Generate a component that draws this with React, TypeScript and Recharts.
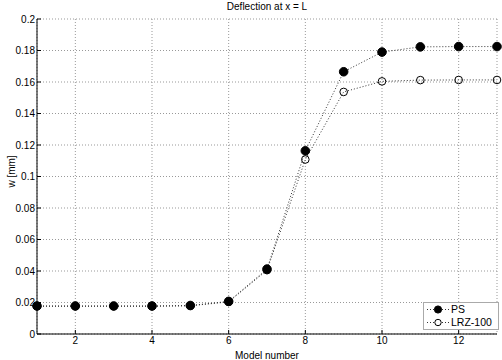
import { LineChart, Line, XAxis, YAxis, CartesianGrid } from 'recharts';

const models = [1, 2, 3, 4, 5, 6, 7, 8, 9, 10, 11, 12, 13];
const psValues = [0.0178, 0.0178, 0.0178, 0.0178, 0.0181, 0.0207, 0.0412, 0.1163, 0.1665, 0.179, 0.1823, 0.1825, 0.1825];
const lrzValues = [0.0176, 0.0176, 0.0176, 0.0176, 0.0179, 0.0204, 0.0405, 0.1108, 0.1537, 0.1604, 0.1612, 0.1613, 0.1613];
const xTicks = [2, 4, 6, 8, 10, 12];
const yTicks = [0, 0.02, 0.04, 0.06, 0.08, 0.1, 0.12, 0.14, 0.16, 0.18, 0.2];

const data = models.map((m, i) => ({ model: m, ps: psValues[i], lrz: lrzValues[i] }));

const FONT = 'Arial, "Liberation Sans", sans-serif';
const tickStyle = { fontSize: 10, fill: '#000', fontFamily: FONT };

// MATLAB-style legend box, overlaid at the lower right of the axes
function LegendBox() {
  const row = (filled: boolean, label: string) => (
    <div style={{ display: 'flex', alignItems: 'center', height: 13, whiteSpace: 'nowrap' }}>
      <svg width={23} height={13}>
        <line x1={1} y1={6.5} x2={23} y2={6.5} stroke="#333" strokeDasharray="1 2" />
        <circle cx={12} cy={6.5} r={filled ? 3.6 : 3.2} fill={filled ? '#000' : '#fff'} stroke="#000" />
      </svg>
      <span style={{ marginLeft: 2 }}>{label}</span>
    </div>
  );
  return (
    <div
      style={{
        position: 'absolute',
        left: 423,
        top: 302,
        border: '1px solid #aaa',
        background: '#fff',
        width: 76,
        height: 28,
        padding: '0 0 0 2px',
        boxSizing: 'border-box',
        fontSize: 10.5,
        fontFamily: FONT,
        lineHeight: '13px',
        overflow: 'hidden',
      }}
    >
      {row(true, 'PS')}
      {row(false, 'LRZ-100')}
    </div>
  );
}

export default function App() {
  return (
    <div style={{ position: 'absolute', left: 0, top: 0, width: 502, height: 360, background: '#fff' }}>
      <div
        style={{
          position: 'absolute',
          top: 1,
          left: 37,
          width: 460,
          textAlign: 'center',
          fontSize: 10,
          fontFamily: FONT,
          lineHeight: '12px',
        }}
      >
        Deflection at x = L
      </div>
      <LineChart width={502} height={360} data={data} margin={{ top: 19, right: 5, bottom: 0, left: 0 }}>
        <CartesianGrid xAxisId="bottom" yAxisId="left" stroke="#999" strokeDasharray="1 2" />
        <XAxis
          xAxisId="bottom"
          dataKey="model"
          type="number"
          domain={[1, 13]}
          ticks={xTicks}
          height={26}
          tickSize={-4}
          tickMargin={7}
          tick={tickStyle}
          stroke="#000"
          label={{ value: 'Model number', position: 'insideBottom', offset: 1, style: tickStyle }}
        />
        <XAxis
          xAxisId="top"
          orientation="top"
          dataKey="model"
          type="number"
          domain={[1, 13]}
          ticks={xTicks}
          height={0}
          tickSize={-4}
          tick={false}
          stroke="#000"
        />
        <YAxis
          yAxisId="left"
          type="number"
          domain={[0, 0.2]}
          ticks={yTicks}
          width={37}
          tickSize={-4}
          tickMargin={6}
          tick={tickStyle}
          stroke="#000"
          label={{ value: 'w [mm]', angle: -90, position: 'insideLeft', offset: 11, dy: -5, style: { ...tickStyle, textAnchor: 'middle' } }}
        />
        <YAxis
          yAxisId="right"
          orientation="right"
          type="number"
          domain={[0, 0.2]}
          ticks={yTicks}
          width={0}
          tickSize={-4}
          tick={false}
          stroke="#000"
        />
        <Line
          xAxisId="bottom"
          yAxisId="left"
          type="linear"
          dataKey="ps"
          name="PS"
          stroke="#333"
          strokeDasharray="1 2"
          dot={{ r: 4.3, fill: '#000', stroke: '#000', strokeWidth: 1, strokeDasharray: '' }}
          activeDot={false}
          isAnimationActive={false}
        />
        <Line
          xAxisId="bottom"
          yAxisId="left"
          type="linear"
          dataKey="lrz"
          name="LRZ-100"
          stroke="#333"
          strokeDasharray="1 2"
          dot={{ r: 3.8, fill: 'none', stroke: '#000', strokeWidth: 1, strokeDasharray: '' }}
          activeDot={false}
          isAnimationActive={false}
        />
      </LineChart>
      <LegendBox />
    </div>
  );
}
